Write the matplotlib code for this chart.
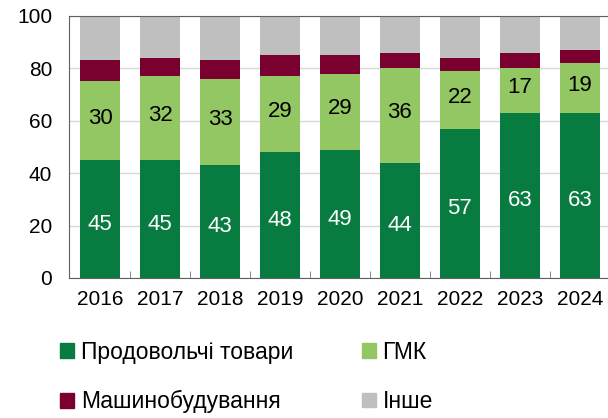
import numpy as np
import matplotlib.pyplot as plt
from matplotlib.patches import Patch

plt.rcParams['font.family'] = ['Liberation Sans', 'DejaVu Sans']

# Data (shares, %)
years = ["2016", "2017", "2018", "2019", "2020", "2021", "2022", "2023", "2024"]
food = [45, 45, 43, 48, 49, 44, 57, 63, 63]
metal = [30, 32, 33, 29, 29, 36, 22, 17, 19]
machinery = [8, 7, 7, 8, 7, 6, 5, 6, 5]
other = [100 - f - m - k for f, m, k in zip(food, metal, machinery)]

names = ["Продовольчі товари", "ГМК", "Машинобудування", "Інше"]
colors = ["#087B41", "#92C763", "#7A0030", "#BFBFBF"]

fig = plt.figure(figsize=(6.08, 4.18), dpi=100)
ax = fig.add_axes([0.1135, 0.335, 0.8865, 0.627])

x = np.arange(len(years))
w = 0.667
bottom = np.zeros(len(years))
for vals, c in zip([food, metal, machinery, other], colors):
    ax.bar(x, vals, w, bottom=bottom, color=c, zorder=2)
    bottom += np.array(vals)

# segment labels
for i in range(len(years)):
    ax.text(x[i], food[i] / 2 - 2, str(food[i]), ha="center", va="center",
            color="white", fontsize=16)
    ax.text(x[i], food[i] + metal[i] / 2 + 1, str(metal[i]), ha="center",
            va="center", color="black", fontsize=16)

ax.set_ylim(0, 100)
ax.set_xlim(-0.52, 8.47)
ax.set_yticks([0, 20, 40, 60, 80, 100])
ax.tick_params(axis="y", length=0, labelsize=15, pad=12)
ax.set_xticks(x)
ax.set_xticklabels(years)
ax.tick_params(axis="x", length=0, labelsize=15, pad=9)
ax.set_xticks(x[:-1] + 0.5, minor=True)
ax.tick_params(axis="x", which="minor", length=5, direction="in", color="#707070")
ax.yaxis.grid(True, color="#D9D9D9", linewidth=1, zorder=0)
for s in ["left", "top", "bottom"]:
    ax.spines[s].set_color("#606060")
ax.spines["right"].set_visible(False)

handles = [Patch(color=colors[0]), Patch(color=colors[2]),
           Patch(color=colors[1]), Patch(color=colors[3])]
labels = [names[0], names[2], names[1], names[3]]
fig.legend(handles, labels, ncol=2, loc="upper left",
           bbox_to_anchor=(0.08, 0.212), frameon=False, fontsize=16.5,
           handlelength=0.6, handleheight=0.6, handletextpad=0.3,
           columnspacing=3.0, labelspacing=1.15, borderpad=0)

fig.savefig("out.png", dpi=100)
